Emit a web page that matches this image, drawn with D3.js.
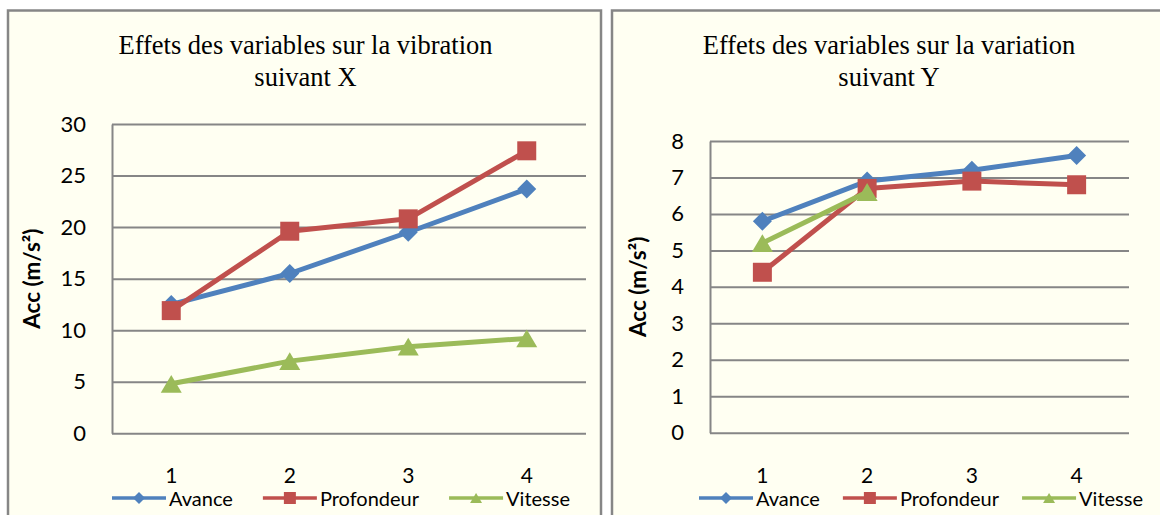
<!DOCTYPE html>
<html>
<head>
<meta charset="utf-8">
<script src="https://cdn.jsdelivr.net/npm/d3@7"></script>
<style>
  html, body { margin: 0; padding: 0; background: #ffffff; }
  svg { display: block; }
</style>
</head>
<body>
<svg id="chart" width="1160" height="515"></svg>
<script>
// Accelerations (m/s²) per level 1..4 for each machining variable
const categories = ["1", "2", "3", "4"];
const seriesNames = ["Avance", "Profondeur", "Vitesse"];

const accXAvance     = [12.5, 15.5, 19.5, 23.7];
const accXProfondeur = [11.9, 19.6, 20.8, 27.4];
const accXVitesse    = [4.8, 7.0, 8.4, 9.2];

const accYAvance     = [5.8, 6.9, 7.2, 7.6];
const accYProfondeur = [4.4, 6.7, 6.9, 6.8];
const accYVitesse    = [5.2, 6.6];

const ticksAccX = [0, 5, 10, 15, 20, 25, 30];
const ticksAccY = [0, 1, 2, 3, 4, 5, 6, 7, 8];

const titleX = ["Effets des variables sur la vibration", "suivant X"];
const titleY = ["Effets des variables sur la variation", "suivant Y"];
const axisTitle = "Acc (m/s²)";

const colors = { Avance: "#4F81BD", Profondeur: "#C0504D", Vitesse: "#9BBB59" };
const shapes = { Avance: "diamond", Profondeur: "square", Vitesse: "triangle" };

const sansFont = "Lato, 'Noto Sans', sans-serif";
const serifFont = "'Liberation Serif', 'DejaVu Serif', serif";
const gridColor = "#868686";
const panelFill = "#FFFFF2";

const svg = d3.select("#chart");

function markerPath(shape, size) {
  const h = size / 2;
  if (shape === "diamond") return `M0,${-h}L${h},0L0,${h}L${-h},0Z`;
  if (shape === "square") return `M${-h},${-h}H${h}V${h}H${-h}Z`;
  // triangle: bounding box centred on the point
  const th = size * 0.85;
  return `M0,${-th / 2}L${h},${th / 2}L${-h},${th / 2}Z`;
}

function drawChart(cfg) {
  const g = svg.append("g");

  // panel
  g.append("rect")
    .attr("x", cfg.panel.x).attr("y", cfg.panel.y)
    .attr("width", cfg.panel.w).attr("height", cfg.panel.h)
    .attr("fill", panelFill)
    .attr("stroke", gridColor).attr("stroke-width", 2.5);

  // title
  const t = g.append("text")
    .attr("text-anchor", "middle")
    .attr("font-family", serifFont)
    .attr("font-size", 26.5)
    .attr("fill", "#000");
  cfg.title.forEach((line, i) => {
    t.append("tspan").attr("x", cfg.titleX).attr("y", 54.3 + i * 31.4).text(line);
  });

  const x = d3.scaleBand().domain(categories).range([cfg.plot.left, cfg.plot.right]);
  const y = d3.scaleLinear().domain([0, d3.max(cfg.ticks)]).range([cfg.plot.bottom, cfg.plot.top]);
  const plotW = cfg.plot.right - cfg.plot.left;

  // y axis with gridlines
  const yAxis = g.append("g")
    .attr("transform", `translate(${cfg.plot.left},0)`)
    .call(d3.axisLeft(y).tickValues(cfg.ticks).tickFormat(d3.format("d"))
      .tickSizeInner(-plotW).tickSizeOuter(0).tickPadding(26));
  yAxis.select(".domain").attr("stroke", gridColor).attr("stroke-width", 2);
  yAxis.selectAll(".tick line").attr("stroke", gridColor).attr("stroke-width", 2);
  yAxis.selectAll(".tick text")
    .attr("font-family", sansFont).attr("font-size", 22).attr("fill", "#000");

  // x axis labels
  const xAxis = g.append("g")
    .attr("transform", `translate(0,${cfg.plot.bottom})`)
    .call(d3.axisBottom(x).tickSize(0));
  xAxis.select(".domain").remove();
  xAxis.selectAll(".tick text")
    .attr("y", 50).attr("dy", null)
    .attr("font-family", sansFont).attr("font-size", 21).attr("fill", "#000");

  // y axis title
  g.append("text")
    .attr("transform", `translate(${cfg.yTitleX},${(cfg.plot.top + cfg.plot.bottom) / 2}) rotate(-90)`)
    .attr("text-anchor", "middle")
    .attr("dy", "0.35em")
    .attr("font-family", sansFont).attr("font-weight", "bold").attr("font-size", 22.5)
    .attr("fill", "#000")
    .text(axisTitle);

  // series
  const line = d3.line()
    .x((d, i) => x(categories[i]) + x.bandwidth() / 2)
    .y(d => y(d));

  seriesNames.forEach(name => {
    const values = cfg.series[name];
    const sg = g.append("g");
    sg.append("path")
      .attr("d", line(values))
      .attr("fill", "none")
      .attr("stroke", colors[name])
      .attr("stroke-width", 5)
      .attr("stroke-linejoin", "round");
    sg.selectAll("path.mk").data(values).join("path")
      .attr("class", "mk")
      .attr("transform", (d, i) => `translate(${x(categories[i]) + x.bandwidth() / 2},${y(d)})`)
      .attr("d", markerPath(shapes[name], shapes[name] === "triangle" ? 21 : 19))
      .attr("fill", colors[name]);
  });

  // legend
  const legY = 498;
  let lx = cfg.legendStart;
  seriesNames.forEach(name => {
    const lg = g.append("g");
    lg.append("line")
      .attr("x1", lx).attr("x2", lx + 54)
      .attr("y1", legY).attr("y2", legY)
      .attr("stroke", colors[name]).attr("stroke-width", 3.5);
    lg.append("path")
      .attr("transform", `translate(${lx + 27},${legY})`)
      .attr("d", markerPath(shapes[name], 12))
      .attr("fill", colors[name]);
    const txt = lg.append("text")
      .attr("x", lx + 57).attr("y", 506)
      .attr("font-family", sansFont).attr("font-size", 20)
      .attr("fill", "#000")
      .text(name);
    lx = lx + 57 + txt.node().getComputedTextLength() + cfg.legendGap;
  });
}

drawChart({
  panel: { x: 8, y: 10.5, w: 593, h: 520 },
  plot: { left: 112, right: 586, top: 124, bottom: 433.3 },
  ticks: ticksAccX,
  title: titleX,
  titleX: 305.5,
  yTitleX: 32,
  series: { Avance: accXAvance, Profondeur: accXProfondeur, Vitesse: accXVitesse },
  legendStart: 112,
  legendGap: 30
});

drawChart({
  panel: { x: 612, y: 10.5, w: 560, h: 520 },
  plot: { left: 710, right: 1129, top: 141, bottom: 432.7 },
  ticks: ticksAccY,
  title: titleY,
  titleX: 889,
  yTitleX: 638,
  series: { Avance: accYAvance, Profondeur: accYProfondeur, Vitesse: accYVitesse },
  legendStart: 699,
  legendGap: 23
});
</script>
</body>
</html>
